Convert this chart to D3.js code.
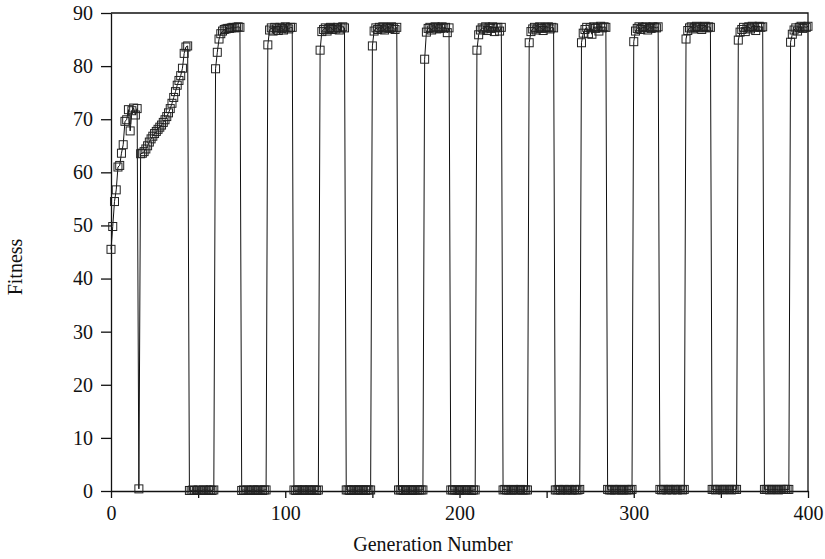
<!DOCTYPE html>
<html>
<head>
<meta charset="utf-8">
<script src="https://cdn.jsdelivr.net/npm/d3@7"></script>
<style>
  html, body { margin: 0; padding: 0; background: #fff; }
  #chart svg { display: block; }
  .axis text { font-family: "Liberation Serif", "DejaVu Serif", serif; font-size: 20px; fill: #111; }
  .axis path, .axis line { stroke: #111; stroke-width: 1.3; }
</style>
</head>
<body>
<div id="chart"></div>
<script>
// Fitness per generation

// gens 0-15: first climb
const phaseA = [45.5, 49.8, 54.5, 56.7, 61.0, 61.3, 63.6, 65.2, 69.6, 69.9, 71.8, 67.8, 71.6, 72.1, 70.8, 72.0];
// gen 16: single collapse
const dipValue = 0.4;
// gens 17-44: second, slower climb
const phaseB = [63.5, 63.6, 63.9, 64.4, 65.0, 65.7, 66.3, 66.8, 67.3, 67.7, 68.1, 68.5, 68.9, 69.4,
                69.9, 70.5, 71.2, 72.0, 73.0, 74.1, 75.2, 76.4, 77.3, 78.2, 79.6, 82.4, 83.6, 83.8];

// blocks near zero (15 generations each)
const lowStarts = [45, 75, 105, 135, 165, 195, 225, 255, 285, 315, 345, 375];
const lowBlocks = [
  [0.1, 0.1, 0.2, 0.1, 0.1, 0.2, 0.1, 0.1, 0.2, 0.1, 0.2, 0.1, 0.2, 0.1, 0.2],
  [0.1, 0.2, 0.1, 0.2, 0.1, 0.1, 0.2, 0.2, 0.1, 0.2, 0.1, 0.2, 0.1, 0.2, 0.2],
  [0.2, 0.1, 0.2, 0.2, 0.1, 0.2, 0.2, 0.1, 0.2, 0.2, 0.1, 0.2, 0.2, 0.1, 0.2],
  [0.2, 0.2, 0.1, 0.2, 0.2, 0.2, 0.1, 0.2, 0.2, 0.2, 0.2, 0.1, 0.2, 0.2, 0.2],
  [0.2, 0.2, 0.2, 0.1, 0.2, 0.2, 0.2, 0.2, 0.1, 0.2, 0.2, 0.2, 0.2, 0.2, 0.2],
  [0.2, 0.2, 0.2, 0.2, 0.2, 0.1, 0.2, 0.2, 0.2, 0.2, 0.2, 0.2, 0.1, 0.2, 0.2],
  [0.2, 0.3, 0.2, 0.2, 0.2, 0.2, 0.3, 0.2, 0.2, 0.2, 0.3, 0.2, 0.2, 0.2, 0.2],
  [0.2, 0.2, 0.3, 0.2, 0.2, 0.3, 0.2, 0.2, 0.3, 0.2, 0.2, 0.3, 0.2, 0.2, 0.3],
  [0.3, 0.2, 0.2, 0.3, 0.2, 0.3, 0.2, 0.3, 0.2, 0.2, 0.3, 0.2, 0.3, 0.2, 0.3],
  [0.3, 0.2, 0.3, 0.3, 0.2, 0.3, 0.3, 0.2, 0.3, 0.3, 0.2, 0.3, 0.3, 0.2, 0.3],
  [0.3, 0.3, 0.2, 0.3, 0.3, 0.3, 0.2, 0.3, 0.3, 0.3, 0.3, 0.2, 0.3, 0.3, 0.3],
  [0.3, 0.3, 0.3, 0.2, 0.3, 0.3, 0.3, 0.3, 0.2, 0.3, 0.3, 0.3, 0.3, 0.3, 0.3]
];

// blocks near the plateau
const highStarts = [60, 90, 120, 150, 180, 210, 240, 270, 300, 330, 360, 390];
const highBlocks = [
  [79.5, 82.6, 85.1, 86.1, 86.6, 86.9, 87.0, 87.1, 87.1, 87.2, 87.3, 87.2, 87.3, 87.4, 87.3],
  [84.0, 86.8, 87.2, 86.6, 87.3, 87.0, 86.7, 87.3, 87.1, 86.8, 87.4, 87.2, 87.0, 87.3, 87.3],
  [83.0, 86.5, 86.9, 87.2, 86.6, 87.1, 87.3, 86.9, 87.2, 87.0, 87.3, 86.8, 87.2, 87.4, 87.2],
  [83.8, 86.6, 87.2, 86.9, 87.3, 87.0, 87.4, 86.8, 87.2, 87.3, 87.1, 87.4, 87.2, 86.9, 87.3],
  [81.3, 86.4, 87.1, 87.3, 86.8, 87.2, 87.4, 87.0, 87.3, 87.1, 87.4, 87.2, 87.3, 86.3, 87.2],
  [83.0, 85.9, 86.8, 87.2, 87.0, 87.4, 86.7, 87.3, 87.1, 87.4, 86.5, 87.2, 87.3, 86.6, 87.3],
  [84.4, 86.5, 87.0, 87.3, 86.8, 87.2, 87.4, 87.1, 86.7, 87.3, 87.2, 87.4, 87.0, 87.3, 87.2],
  [84.4, 86.2, 86.9, 87.3, 86.1, 87.2, 86.0, 87.4, 87.1, 87.3, 86.6, 87.5, 87.2, 87.4, 87.3],
  [84.6, 86.6, 87.1, 87.4, 86.9, 87.3, 87.2, 87.4, 86.8, 87.3, 87.1, 87.4, 87.3, 87.2, 87.4],
  [85.1, 86.7, 87.2, 87.4, 87.0, 87.3, 87.5, 87.2, 87.4, 86.9, 87.3, 87.5, 87.2, 87.4, 87.3],
  [84.9, 86.4, 86.9, 87.3, 86.5, 87.2, 87.4, 87.0, 87.5, 87.3, 86.7, 87.4, 87.5, 87.3, 87.4],
  [84.5, 86.0, 86.8, 87.2, 86.6, 87.3, 87.5, 87.1, 87.4, 87.3, 87.5]
];

const xTicks = [0, 50, 100, 150, 200, 250, 300, 350, 400];
const yTicks = [0, 10, 20, 30, 40, 50, 60, 70, 80, 90];

(function () {
  // put the series together in generation order
  let points = [];
  phaseA.forEach((v, i) => points.push({ gen: i, fit: v }));
  points.push({ gen: phaseA.length, fit: dipValue });
  phaseB.forEach((v, i) => points.push({ gen: phaseA.length + 1 + i, fit: v }));
  lowStarts.forEach((s, k) => lowBlocks[k].forEach((v, i) => points.push({ gen: s + i, fit: v })));
  highStarts.forEach((s, k) => highBlocks[k].forEach((v, i) => points.push({ gen: s + i, fit: v })));
  points.sort((a, b) => a.gen - b.gen);

  const W = 825, H = 559;
  const margin = { top: 13, right: 17, bottom: 68, left: 111 },
      width = W - margin.left - margin.right,
      height = H - margin.top - margin.bottom;

  const svg = d3.select("#chart").append("svg")
      .attr("width", W)
      .attr("height", H)
    .append("g")
      .attr("transform", "translate(" + margin.left + "," + margin.top + ")");

  const x = d3.scaleLinear().domain([0, 400]).range([0, width]);
  const y = d3.scaleLinear().domain([0, 90]).range([height, 0]);

  // frame (top and right edges)
  svg.append("path")
      .attr("d", "M0,0H" + width + "V" + height)
      .attr("fill", "none")
      .attr("stroke", "#111")
      .attr("stroke-width", 1.3);

  svg.append("g")
      .attr("class", "axis")
      .attr("transform", "translate(0," + height + ")")
      .call(d3.axisBottom(x).tickValues(xTicks).tickSize(7).tickPadding(8).tickSizeOuter(0)
          .tickFormat(d => d % 100 === 0 ? d : ""));

  svg.append("g")
      .attr("class", "axis")
      .call(d3.axisLeft(y).tickValues(yTicks).tickSize(10).tickPadding(8).tickSizeOuter(0));

  // the line through every generation
  const line = d3.line().x(d => x(d.gen)).y(d => y(d.fit));
  svg.append("path")
      .datum(points)
      .attr("d", line)
      .attr("fill", "none")
      .attr("stroke", "#111")
      .attr("stroke-width", 1);

  // open square markers
  const s = 8;
  svg.selectAll(".mark")
      .data(points)
      .enter()
      .append("rect")
      .attr("class", "mark")
      .attr("x", d => x(d.gen) - s / 2)
      .attr("y", d => y(d.fit) - s / 2)
      .attr("width", s)
      .attr("height", s)
      .attr("fill", "none")
      .attr("stroke", "#222")
      .attr("stroke-width", 1);

  // axis titles
  svg.append("text")
      .attr("x", 433 - margin.left)
      .attr("y", 551 - margin.top)
      .attr("text-anchor", "middle")
      .attr("font-family", "Liberation Serif, serif")
      .attr("font-size", "20px")
      .attr("fill", "#111")
      .text("Generation Number");

  svg.append("text")
      .attr("transform", "translate(22," + (267 - margin.top) + ") rotate(-90)")
      .attr("transform", "translate(" + (22 - margin.left) + "," + (267 - margin.top) + ") rotate(-90)")
      .attr("text-anchor", "middle")
      .attr("font-family", "Liberation Serif, serif")
      .attr("font-size", "20px")
      .attr("fill", "#111")
      .text("Fitness");
})();
</script>
</body>
</html>
